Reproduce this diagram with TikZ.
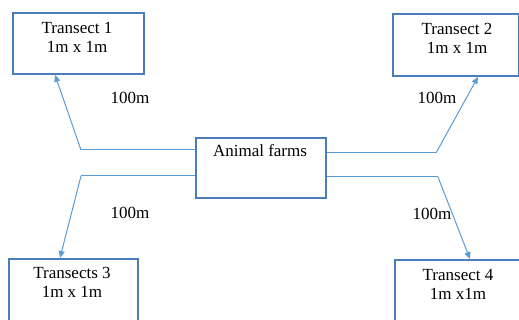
\documentclass[tikz,border=0pt]{standalone}
\usepackage{fontspec}
\setmainfont{Liberation Serif}
\usetikzlibrary{arrows.meta}
\definecolor{boxblue}{HTML}{4A7EBB}
\definecolor{linkblue}{HTML}{5B9BD5}
\begin{document}
\begin{tikzpicture}[x=1pt,y=-1pt,
  box/.style={draw=boxblue,line width=1.8pt,fill=white,rectangle,inner sep=0pt,anchor=north west},
  txt/.style={align=center,inner sep=0pt,anchor=north,font=\fontsize{17}{19}\selectfont,text=black},
  conn/.style={draw=linkblue,line width=1pt},
  arr/.style={conn,-{Triangle[length=7pt,width=6pt]}},
  dist/.style={inner sep=0pt,font=\fontsize{17}{19}\selectfont,text=black}]
\useasboundingbox (0,0) rectangle (519,320);
\clip (0,0) rectangle (519,320);
% boxes
\node[box,minimum width=131pt,minimum height=61pt] (t1) at (12,12) {};
\node[box,minimum width=126pt,minimum height=62pt] (t2) at (392,13) {};
\node[box,minimum width=129pt,minimum height=70pt] (t3) at (8,258) {};
\node[box,minimum width=129pt,minimum height=70pt] (t4) at (394,259) {};
\node[box,minimum width=130pt,minimum height=60pt] (farms) at (195,137) {};
% texts
\node[txt] (l1) at (77,22.5) {Transect 1\\1m x 1m};
\node[txt] (l2) at (457,23) {Transect 2\\1m x 1m};
\node[txt] (l3) at (72,267.5) {Transects 3\\1m x 1m};
\node[txt] (l4) at (458,269.5) {Transect 4\\1m x1m};
\node[txt] (lf) at (260,144.5) {Animal farms};
% bend points
\coordinate (b1) at (81,150);
\coordinate (b2) at (436,153);
\coordinate (b3) at (81,176);
\coordinate (b4) at (438,177);
% connectors
\draw[conn] (farms.west |- b1) -- (b1);
\draw[arr] (b1) -- ([xshift=43pt]t1.south west);
\draw[conn] (farms.east |- b2) -- (b2);
\draw[arr] (b2) -- ([xshift=86pt]t2.south west);
\draw[conn] (farms.west |- b3) -- (b3);
\draw[arr] (b3) -- ([xshift=52pt]t3.north west);
\draw[conn] (farms.east |- b4) -- (b4);
\draw[arr] (b4) -- ([xshift=76pt]t4.north west);
% distance labels
\node[dist] (d1) at (130,98) {100m};
\node[dist] (d2) at (437,98) {100m};
\node[dist] (d3) at (130,213) {100m};
\node[dist] (d4) at (432,214) {100m};
\end{tikzpicture}
\end{document}
